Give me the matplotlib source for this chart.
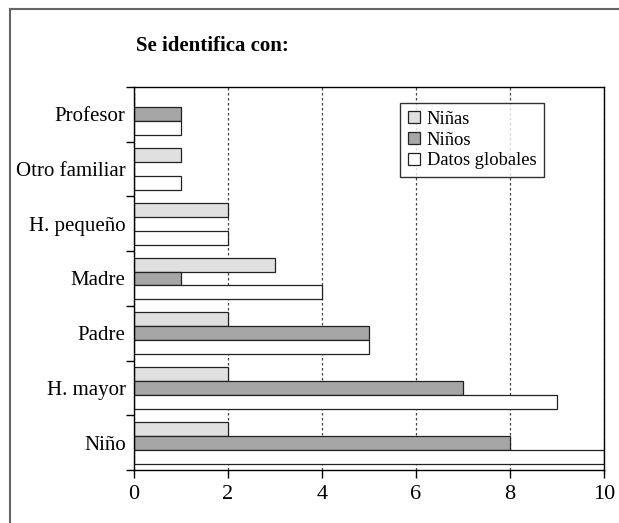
import matplotlib.pyplot as plt
import numpy as np
from matplotlib.lines import Line2D

categorias = ["Niño", "H. mayor", "Padre", "Madre", "H. pequeño", "Otro familiar", "Profesor"]
ninas = [2, 2, 2, 3, 2, 1, 0]
ninos = [8, 7, 5, 1, 0, 0, 1]
globales = [10, 9, 5, 4, 2, 1, 1]
series = ["Niñas", "Niños", "Datos globales"]
colores = ["#e0e0e0", "#a6a6a6", "#ffffff"]

plt.rcParams['font.family'] = ['Liberation Serif', 'DejaVu Serif']

fig = plt.figure(figsize=(6.19, 5.23), dpi=100)
ax = fig.add_axes([0.2165, 0.1013, 0.7593, 0.7324])

y = np.arange(len(categorias))
h = 0.255
for vals, off, col, lab in zip([ninas, ninos, globales], [h, 0, -h], colores, series):
    ax.barh(y + off, vals, height=h, color=col, edgecolor="#222222", linewidth=0.9, label=lab)

ax.set_xlim(0, 10)
ax.set_ylim(-0.5, len(categorias) - 0.5)
ax.set_xticks([0, 2, 4, 6, 8, 10])
ax.set_xticklabels(["0", "2", "4", "6", "8", "10"], fontsize=16)
ax.set_yticks(y)
ax.set_yticklabels(categorias, fontsize=15)
ax.tick_params(axis="y", length=0, pad=6)
ax.set_yticks(np.arange(len(categorias) + 1) - 0.5, minor=True)
ax.tick_params(axis="y", which="minor", length=6, width=1)
ax.tick_params(axis="x", length=6, width=1, pad=5)

ax.grid(axis="x", linestyle=(0, (2, 2)), color="#444444", linewidth=0.9)
ax.set_axisbelow(True)
for s in ax.spines.values():
    s.set_linewidth(1)

leg = ax.legend(loc="upper left", bbox_to_anchor=(0.566, 0.958), borderaxespad=0,
                fontsize=13.3, frameon=True, fancybox=False, handlelength=0.65, handleheight=0.65,
                handletextpad=0.38, labelspacing=0.2, borderpad=0.42)
leg.get_frame().set_edgecolor("black")
leg.get_frame().set_linewidth(1)

fig.text(0.2197, 0.902, "Se identifica con:", fontsize=15, fontweight="bold", ha="left", va="baseline")

# marco exterior
fig.add_artist(Line2D([10 / 619, 10 / 619], [0, 1 - 8.5 / 523], color="#666666", linewidth=1.5))
fig.add_artist(Line2D([10 / 619, 1], [1 - 8.5 / 523, 1 - 8.5 / 523], color="#666666", linewidth=1.5))

fig.savefig("out.png", dpi=100)
